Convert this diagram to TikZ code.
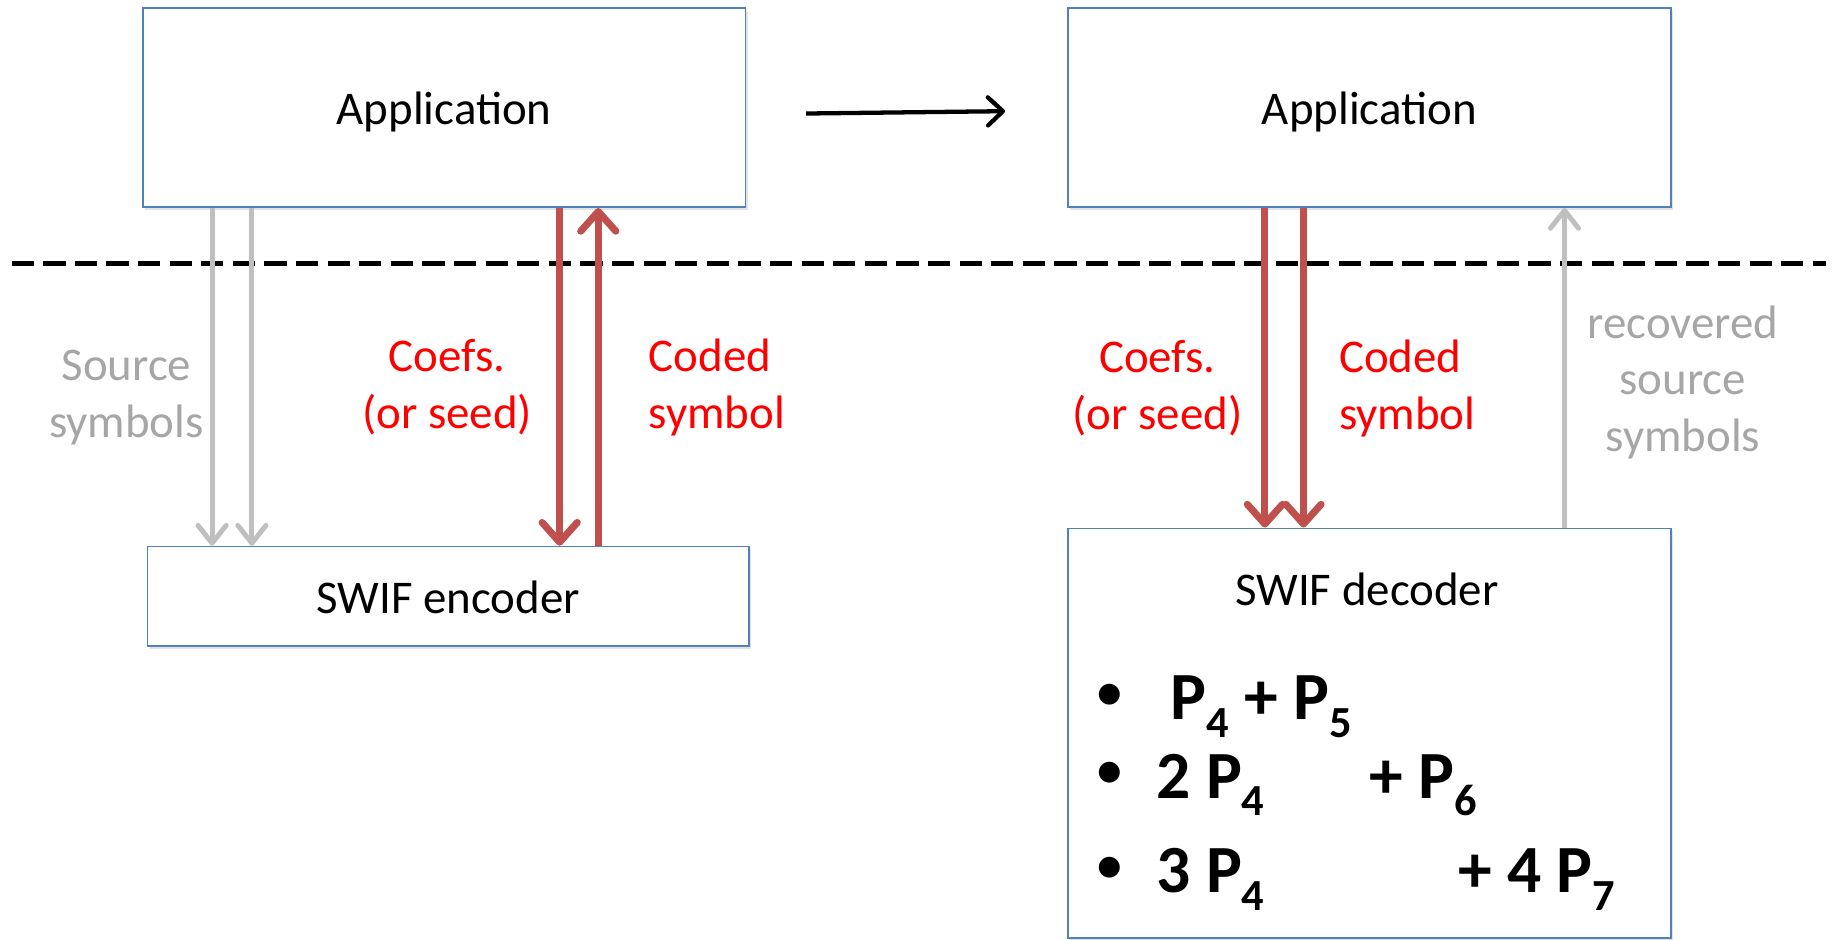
\documentclass[tikz,border=0pt]{standalone}
\usepackage{fontspec}
\setmainfont{Carlito}
\usetikzlibrary{arrows.meta,calc,positioning,shadows}
\definecolor{BoxBlue}{HTML}{4F81BD}
\definecolor{LinkRed}{HTML}{C0504D}
\definecolor{LinkGray}{HTML}{BFBFBF}
\definecolor{NoteGray}{HTML}{A6A6A6}
\definecolor{NoteRed}{HTML}{FF0000}
\newcommand{\psub}[1]{\raisebox{-10.5pt}{\fontsize{27pt}{27pt}\selectfont #1}}
\tikzset{
  block/.style={
    draw=BoxBlue, line width=1pt, fill=white, inner sep=0pt,
    minimum width=12.875cm, font=\fontsize{28.5pt}{34.5pt}\selectfont,
    text height=23.4pt, text depth=2.8pt,
    drop shadow={opacity=0.22, shadow xshift=0.5mm, shadow yshift=-0.6mm}
  },
  note/.style={font=\fontsize{28.5pt}{34.5pt}\selectfont, inner sep=0pt, anchor=base},
  rednote/.style={note, text=NoteRed},
  graynote/.style={note, text=NoteGray},
  term/.style={font=\fontsize{41pt}{41pt}\selectfont\bfseries, inner sep=0pt, anchor=base west},
  bul/.style={font=\fontsize{30pt}{30pt}\selectfont\bfseries, inner sep=0pt},
  redflow/.style={-{Straight Barb[length=4.2mm, width=7.5mm, round]}, line width=4.3pt, draw=LinkRed},
  grayflow/.style={-{Straight Barb[length=3.8mm, width=6mm, round]}, line width=3pt, draw=LinkGray},
  flow/.style={-{Straight Barb[length=3.2mm, width=6mm, round]}, line width=2.6pt, draw=black},
  cut/.style={line width=2.8pt, dash pattern=on 13.5pt off 5.7pt}
}

\begin{document}
\begin{tikzpicture}[x=0.025cm, y=-0.025cm]
    \useasboundingbox (0,0) rectangle (1568,803);
    % boxes
    \node[block, minimum height=4.25cm] (appl) at (379.5,92) {Application};
    \node[block, minimum height=4.25cm, right=6.85cm of appl] (appr) {Application};
    \node[block, minimum width=12.85cm, minimum height=2.125cm] (enc) at (383,509.5) {SWIF encoder};
    \node[block, minimum height=8.75cm, below=6.825cm of appr] (dec) {};
    \node[note] (dectitle) at (1168,517) {SWIF decoder};
    % separator
    \draw[cut] (10,225) coordinate (cutl) -- (1560,225) coordinate (cutr);
    \draw[flow] ($(appl.east)+(51,5)$) -- ($(appr.west)+(-53,3)$);
    % encoder side
    \foreach \dx in {60,94}
      \draw[grayflow] ($(appl.south west)+(\dx,0)$) coordinate (s) -- (s |- enc.north);
    \draw[redflow] ($(appl.south west)+(357,0)$) coordinate (c) -- (c |- enc.north);
    \draw[redflow] ($(enc.north west)+(386,0)$) coordinate (d) -- (d |- appl.south);
    \node[graynote, align=center] (srclbl) at (108,374) {Source\\symbols};
    \node[rednote, align=center] (coefl) at (382,366) {Coefs.\\(or seed)};
    \node[rednote, align=left, anchor=base west] (codedl) at (554,366) {Coded\\symbol};
    % decoder side
    \foreach \dx in {169,202}
      \draw[redflow] ($(appr.south west)+(\dx,0)$) coordinate (s) -- (s |- dec.north);
    \draw[grayflow] ($(dec.north west)+(425,0)$) coordinate (r) -- (r |- appr.south);
    \node[rednote, align=center] (coefr) at (989,367) {Coefs.\\(or seed)};
    \node[rednote, align=left, anchor=base west] (codedr) at (1144,367) {Coded\\symbol};
    \node[graynote, align=center] (recov) at (1438,386) {recovered\\source\\symbols};
    % combinations
    \foreach \y/\n in {595/1,662/2,743/3}
      \node[bul] (b\n) at (948,\y) {•};
    \node[term] (t1) at (1000,615) {P\psub{4} + P\psub{5}};
    \node[term] (t2a) at (988,682) {2 P\psub{4}};
    \node[term] (t2b) at (1170,682) {+ P\psub{6}};
    \node[term] (t3a) at (988,763) {3 P\psub{4}};
    \node[term] (t3b) at (1246,763) {+ 4 P\psub{7}};
  \end{tikzpicture}
\end{document}
